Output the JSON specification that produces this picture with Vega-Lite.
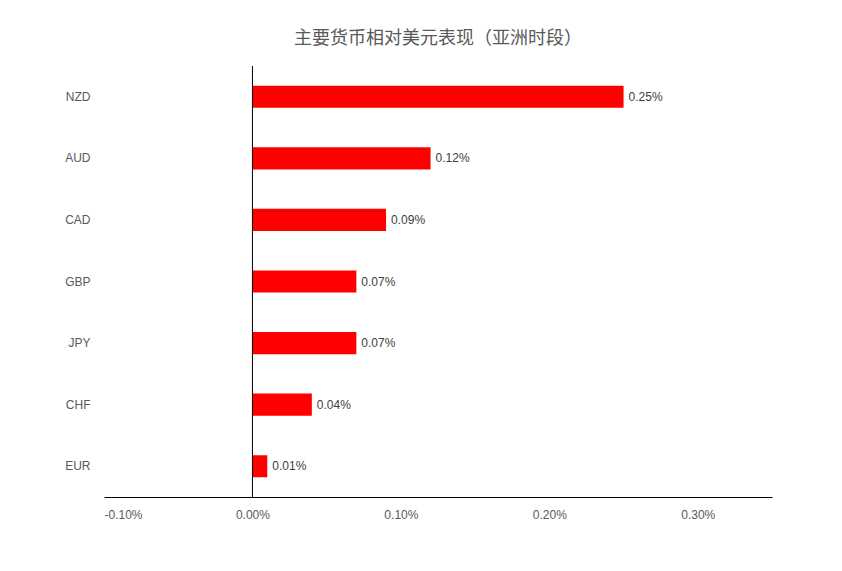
{
  "$schema": "https://vega.github.io/schema/vega-lite/v6.json",
  "autosize": {"type": "none"},
  "padding": {"left": 104, "top": 66, "right": 70, "bottom": 74},
  "width": 668,
  "height": 431,
  "background": "white",
  "title": {
    "text": "主要货币相对美元表现（亚洲时段）",
    "font": "Noto Sans CJK SC",
    "fontSize": 18,
    "fontWeight": "normal",
    "color": "#595959",
    "anchor": "middle",
    "offset": 18
  },
  "data": {
    "values": [
      {"currency": "NZD", "change": 0.0025},
      {"currency": "AUD", "change": 0.0012},
      {"currency": "CAD", "change": 0.0009},
      {"currency": "GBP", "change": 0.0007},
      {"currency": "JPY", "change": 0.0007},
      {"currency": "CHF", "change": 0.0004},
      {"currency": "EUR", "change": 0.0001}
    ]
  },
  "config": {
    "view": {"stroke": null},
    "axis": {
      "grid": false,
      "ticks": false,
      "labelFont": "Liberation Sans",
      "labelFontSize": 12,
      "labelColor": "#595959",
      "title": null
    }
  },
  "encoding": {
    "y": {
      "field": "currency",
      "type": "nominal",
      "sort": null,
      "scale": {"paddingInner": 0.64, "paddingOuter": 0.32},
      "axis": {"domain": false, "labelPadding": 14}
    },
    "x": {
      "field": "change",
      "type": "quantitative",
      "scale": {"domain": [-0.001, 0.0035], "nice": false},
      "axis": {
        "format": ".2%",
        "labelExpr": "replace(datum.label, '−', '-')",
        "values": [-0.001, 0, 0.001, 0.002, 0.003],
        "domainColor": "#000000",
        "domainWidth": 1,
        "labelPadding": 12
      }
    }
  },
  "layer": [
    {
      "mark": {"type": "bar", "color": "#FF0000"}
    },
    {
      "mark": {
        "type": "text",
        "align": "left",
        "dx": 5,
        "font": "Liberation Sans",
        "fontSize": 12,
        "color": "#404040"
      },
      "encoding": {
        "text": {"field": "change", "type": "quantitative", "format": ".2%"}
      }
    },
    {
      "data": {"values": [{"zero": 0}]},
      "mark": {"type": "rule", "color": "#000000", "strokeWidth": 1},
      "encoding": {
        "x": {"field": "zero", "type": "quantitative"},
        "y": null
      }
    }
  ]
}
